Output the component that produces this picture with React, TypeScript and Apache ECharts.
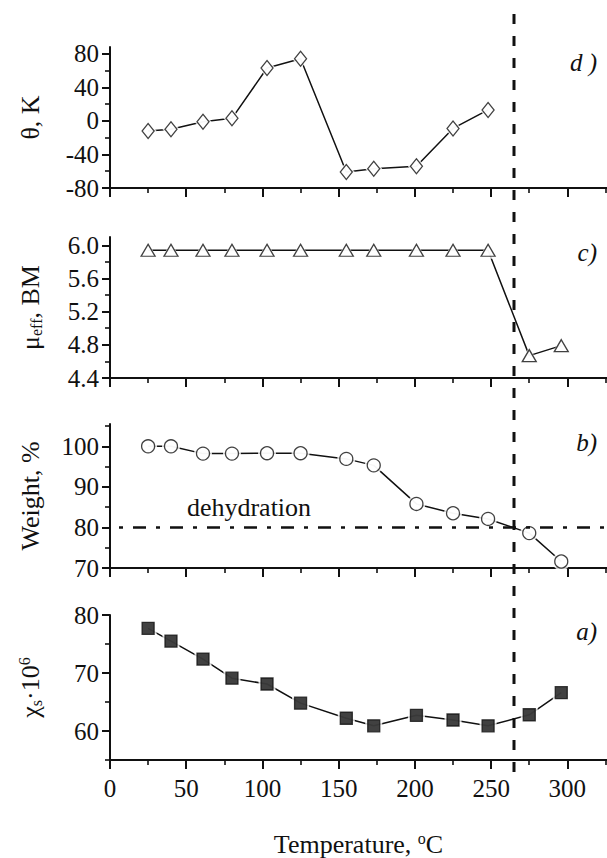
import React, { useEffect, useRef } from 'react';
import * as echarts from 'echarts';

const temperature = [25, 40, 61, 80, 103, 125, 155, 173, 201, 225, 248, 275, 296];
const thetaK = [-12, -10, -1, 3, 63, 74, -61, -57, -54, -9, 13];
const muEff = [5.94, 5.94, 5.94, 5.94, 5.94, 5.94, 5.94, 5.94, 5.94, 5.94, 5.94, 4.67, 4.79];
const weight = [100, 100, 98.2, 98.2, 98.3, 98.3, 96.9, 95.3, 85.8, 83.5, 82.1, 78.6, 71.6];
const chi = [77.7, 75.5, 72.4, 69.1, 68.1, 64.8, 62.2, 60.9, 62.7, 61.9, 60.9, 62.8, 66.6];

const xMajorTicks = [0, 50, 100, 150, 200, 250, 300];
const xMinorTicks = [25, 75, 125, 175, 225, 275, 325];
const thetaMajor = [-80, -40, 0, 40, 80];
const thetaMinor = [-60, -20, 20, 60];
const muMajor = [4.4, 4.8, 5.2, 5.6, 6.0];
const muMinor = [4.6, 5.0, 5.4, 5.8];
const weightMajor = [70, 80, 90, 100];
const weightMinor = [75, 85, 95, 105];
const chiMajor = [60, 70, 80];
const chiMinor = [55, 65, 75];

const transitionT = 265;
const dehydrationLevel = 80;

const FONT = '"Liberation Serif", "Times New Roman", serif';
const INK = '#111111';

const rich = {
  m: { fontSize: 26, lineHeight: 28, fontFamily: FONT, color: INK },
  sub: { fontSize: 16, lineHeight: 13, verticalAlign: 'bottom', fontFamily: FONT, color: INK },
  sup: { fontSize: 16, lineHeight: 13, verticalAlign: 'top', fontFamily: FONT, color: INK },
};

export default function App() {
  const ref = useRef<HTMLDivElement>(null);
  useEffect(() => {
    if (!ref.current) return;
    const chart = echarts.init(ref.current, undefined, { renderer: 'svg' });

    const grids = [
      { left: 110, right: 0, top: 47, height: 141 },
      { left: 110, right: 0, top: 237, height: 141 },
      { left: 110, right: 0, top: 424, height: 144 },
      { left: 110, right: 0, top: 615, height: 145 },
    ];

    const panels = [
      { values: thetaK, min: -80, max: 88, major: thetaMajor, minor: thetaMinor, fmt: (v: number) => String(v), name: '{m|θ, K}', symbol: 'diamond', size: [12, 15], fill: '#fff' },
      { values: muEff, min: 4.4, max: 6.1, major: muMajor, minor: muMinor, fmt: (v: number) => v.toFixed(1), name: '{m|μ}{sub|eff}{m|, BM}', symbol: 'triangle', size: [14, 12], fill: '#fff' },
      { values: weight, min: 70, max: 105.5, major: weightMajor, minor: weightMinor, fmt: (v: number) => String(v), name: '{m|Weight, %}', symbol: 'circle', size: [13, 13], fill: '#fff' },
      { values: chi, min: 55, max: 80, major: chiMajor, minor: chiMinor, fmt: (v: number) => String(v), name: '{m|χ}{sub|s}{m|·10}{sup|6}', symbol: 'rect', size: [12, 12], fill: '#111' },
    ];

    const axisLine = { show: true, onZero: false, lineStyle: { color: INK, width: 2 } };
    const labelStyle = { fontFamily: FONT, fontSize: 25, color: INK };

    const xAxis: any[] = [];
    const yAxis: any[] = [];
    const series: any[] = [];

    panels.forEach((p, i) => {
      xAxis.push({
        type: 'value', gridIndex: i, min: 0, max: 326, position: 'bottom',
        axisLine, splitLine: { show: false },
        axisTick: { show: true, customValues: xMajorTicks, length: 9, lineStyle: { color: INK, width: 2 } },
        axisLabel: { show: i === 3, customValues: xMajorTicks, margin: 16, ...labelStyle },
        name: i === 3 ? '{m|Temperature, }{sup|o}{m|C}' : '',
        nameLocation: 'middle', nameGap: 70,
        nameTextStyle: { fontFamily: FONT, fontSize: 26, color: INK, rich },
      });
      xAxis.push({
        type: 'value', gridIndex: i, min: 0, max: 326, position: 'bottom',
        axisLine: { show: false, onZero: false }, splitLine: { show: false },
        axisTick: { show: true, customValues: xMinorTicks, length: 5, lineStyle: { color: INK, width: 1.6 } },
        axisLabel: { show: false },
      });
      yAxis.push({
        type: 'value', gridIndex: i, min: p.min, max: p.max, position: 'left',
        axisLine, splitLine: { show: false },
        axisTick: { show: true, customValues: p.major, length: 8, lineStyle: { color: INK, width: 2 } },
        axisLabel: { show: true, customValues: p.major, margin: 11, formatter: p.fmt, ...labelStyle },
        name: p.name, nameLocation: 'middle', nameRotate: 90, nameGap: 66,
        nameTextStyle: { fontFamily: FONT, fontSize: 26, color: INK, rich },
      });
      yAxis.push({
        type: 'value', gridIndex: i, min: p.min, max: p.max, position: 'left',
        axisLine: { show: false, onZero: false }, splitLine: { show: false },
        axisTick: { show: true, customValues: p.minor, length: 5, lineStyle: { color: INK, width: 1.6 } },
        axisLabel: { show: false },
      });

      const data = p.values.map((v, k) => [temperature[k], v]);
      const lineSeries: any = {
        type: 'line', xAxisIndex: 2 * i, yAxisIndex: 2 * i, data, symbol: 'none',
        lineStyle: { color: INK, width: 1.5 }, z: 2, silent: true,
      };
      if (i === 2) {
        lineSeries.markLine = {
          silent: true, symbol: 'none', label: { show: false },
          lineStyle: { color: INK, width: 2.6, type: [13, 10, 4, 10], dashOffset: 14 },
          data: [{ yAxis: dehydrationLevel }],
        };
      }
      series.push(lineSeries);
      series.push({
        type: 'scatter', xAxisIndex: 2 * i, yAxisIndex: 2 * i, data, symbol: p.symbol,
        symbolSize: [p.size[0] + 5, p.size[1] + 5], itemStyle: { color: '#fff' }, z: 3, silent: true,
      });
      series.push({
        type: 'scatter', xAxisIndex: 2 * i, yAxisIndex: 2 * i, data, symbol: p.symbol,
        symbolSize: p.size, itemStyle: { color: p.fill, borderColor: INK, borderWidth: 1.3 }, z: 4, silent: true,
      });
    });

    chart.setOption({
      animation: false,
      backgroundColor: '#fff',
      grid: grids,
      xAxis, yAxis, series,
    });

    const px = chart.convertToPixel({ xAxisIndex: 0 }, transitionT) as number;
    const labelFont = 'italic 25px ' + FONT;
    chart.setOption({
      graphic: [
        { type: 'line', z: 1, silent: true, shape: { x1: px, y1: 14, x2: px, y2: 772 }, style: { stroke: INK, lineWidth: 3, lineDash: [10, 12] } },
        { type: 'text', x: 597, y: 62, silent: true, style: { text: 'd )', font: labelFont, fill: INK, align: 'right', verticalAlign: 'middle' } },
        { type: 'text', x: 597, y: 252, silent: true, style: { text: 'c)', font: labelFont, fill: INK, align: 'right', verticalAlign: 'middle' } },
        { type: 'text', x: 597, y: 442, silent: true, style: { text: 'b)', font: labelFont, fill: INK, align: 'right', verticalAlign: 'middle' } },
        { type: 'text', x: 597, y: 631, silent: true, style: { text: 'a)', font: labelFont, fill: INK, align: 'right', verticalAlign: 'middle' } },
        { type: 'text', x: 249, y: 507, silent: true, style: { text: 'dehydration', font: '26px ' + FONT, fill: INK, align: 'center', verticalAlign: 'middle' } },
      ],
    });

    return () => chart.dispose();
  }, []);

  return <div ref={ref} style={{ position: 'fixed', left: 0, top: 0, width: 607, height: 858, background: '#fff' }} />;
}
